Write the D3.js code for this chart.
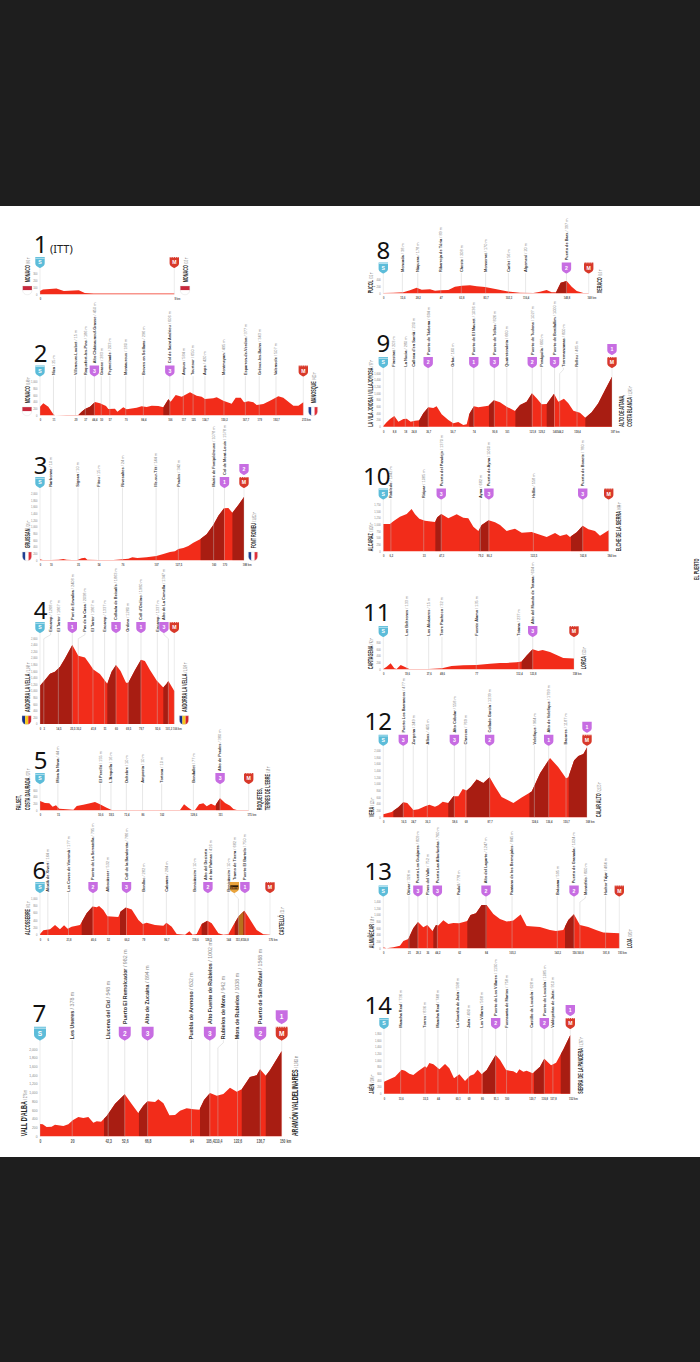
<!DOCTYPE html>
<html>
<head>
<meta charset="utf-8">
<title>Stage profiles</title>
<script src="https://cdn.jsdelivr.net/npm/d3@7"></script>
<style>
  body { margin: 0; background: #fff; }
  svg { display: block; }
  .axis text { font-family: "Liberation Sans", sans-serif; }
</style>
</head>
<body>
<svg id="chart" width="700" height="1362"></svg>
<script>
// km along the stage, metres of altitude, climbs as [from, to] km
// waypoints: [km, name, altitude, climb category, km where the label sits if moved]
const s1Km = [0, 0.2, 1.1, 1.6, 2.6, 3, 3.6, 9];
const s1Elev = [50, 70, 85, 50, 60, 20, 10, 10];
const s1Climbs = [];
const s1Points = [];

const s2Km = [0, 2.7, 6.8, 10.9, 12.2, 21.8, 31.3, 34, 36.7, 40.8, 44.9, 49, 53.9, 55.8, 61.2, 63.2, 68, 70.8, 78.9, 83, 87.1, 91.2, 96.6, 100.7, 104.8, 106.7, 110.8, 115.7, 122.5, 127.9, 132, 134.7, 141.5, 144.3, 149.7, 156.5, 159.8, 163.9, 166.6, 170.1, 174.2, 176.9, 182.4, 187.8, 194.6, 198.7, 206.9, 211, 215];
const s2Elev = [260, 360, 260, 30, 0, 10, 10, 110, 190, 260, 400, 360, 280, 190, 200, 110, 240, 180, 230, 270, 250, 290, 280, 240, 480, 410, 610, 560, 690, 590, 560, 490, 510, 540, 440, 350, 530, 530, 390, 420, 390, 310, 340, 440, 570, 530, 290, 290, 390];
const s2Climbs = [[31.3, 44.4], [100.7, 106]];
const s2Points = [
  [11, 'Niza', '25 m'], [29, 'Villeneuve-Loubet', '15 m'], [37, 'Roquefort-les-Pins', '186 m'],
  [44.4, 'Alto Châteauneuf-Grasse', '450 m', 3], [50, 'Grasse', '283 m'], [57, 'Peymeinade', '203 m'],
  [70, 'Montauroux', '180 m'], [84.4, 'Broves en Seillans', '296 m'], [106, 'Col de Saint Andrieu', '606 m', 3],
  [117, 'Ampus', '584 m'], [125, 'Tourtour', '650 m'], [134.7, 'Aups', '420 m'], [150.2, 'Montmeyan', '495 m'],
  [167.7, 'Esparron-de-Verdon', '377 m'], [179, 'Gréoux-les-Bains', '343 m'], [192.7, 'Valensole', '507 m']
];

const s3Km = [0, 2.5, 10.1, 16.9, 21.5, 24.6, 29.2, 34.4, 38.4, 41.5, 43.6, 54.1, 67.6, 75.9, 81.4, 85.1, 89.7, 98.3, 107.2, 113.7, 119.8, 124.4, 127.5, 132.1, 136.7, 141.3, 147.5, 153.6, 159.7, 164.4, 169.6, 173.6, 177.3, 182.8, 188];
const s3Elev = [30, 10, 10, 20, 40, 20, 10, 10, 60, 80, 20, 10, 10, 30, 50, 90, 70, 90, 130, 190, 250, 270, 340, 370, 430, 530, 630, 780, 1060, 1340, 1560, 1570, 1430, 1660, 1900];
const s3Climbs = [[148, 169.6], [177.3, 188]];
const s3Points = [
  [10, 'Narbonne', '10 m'], [35, 'Sigean', '10 m'], [54, 'Fitou', '15 m'], [76, 'Rivesaltes', '24 m'],
  [107, 'Ille-sur-Têt', '144 m'], [127.5, 'Prades', '342 m'], [160, 'Mairie de Fontpédrouse', '1078 m'],
  [170, 'Col de Mont-Louis', '1578 m', 1]
];

const s4Km = [0, 3.9, 7.9, 11.8, 15.8, 19.7, 25.5, 30.2, 35.5, 38.9, 42.1, 47.3, 53.1, 56.5, 60, 63.6, 67.9, 69.7, 75, 79.7, 82.8, 86.8, 92.1, 97.3, 99.9, 101.3, 106];
const s4Elev = [1160, 1333, 1525, 1586, 1737, 1990, 2394, 2070, 2020, 1838, 1656, 1515, 1222, 1586, 1788, 1606, 1252, 1252, 1636, 1949, 1909, 1636, 1323, 1111, 1222, 1303, 1000];
const s4Climbs = [[0, 25.5], [53.1, 60], [69.7, 79.7], [97.3, 101.3]];
const s4Points = [
  [3, 'Encamp', '1268 m', null, 8.4], [14.5, 'El Tarter', '1867 m'], [25.5, 'Port de Envalira', '2408 m', 1],
  [30.2, 'Pas de la Casa', '2098 m', null, 35.5], [41.8, 'El Tarter', '1867 m'], [51, 'Encamp', '1337 m'],
  [60, 'Collada de Beixalís', '1863 m', 1], [69.5, 'Ordino', '1280 m'], [79.7, "Coll d'Ordino", '1980 m', 1],
  [92.6, 'Encamp', '1337 m'], [101.3, 'Alto de La Comella', '1347 m', 3, 97.8]
];

const s5Km = [0, 2.2, 4.2, 7.8, 10.6, 13.4, 16.2, 22.4, 28, 30.8, 36.3, 41.9, 46.1, 50.3, 55.9, 60.1, 78.3, 117.4, 120.8, 124.4, 127.2, 130, 133.4, 137, 139.8, 143.4, 146.8, 151, 155.2, 159.4, 162.2, 165, 175];
const s5Elev = [280, 250, 220, 210, 110, 150, 50, 30, 20, 130, 170, 210, 250, 180, 80, 10, 10, 10, 180, 80, 10, 10, 180, 210, 120, 200, 140, 360, 220, 140, 40, 10, 10];
const s5Climbs = [[147.6, 151]];
const s5Points = [
  [15, 'Móra la Nova', '44 m'], [50.6, 'El Perelló', '155 m'], [59.5, "L'Ampolla", '16 m'], [72.4, 'Deltebre', '10 m'],
  [86, 'Amposta', '10 m'], [102, 'Tortosa', '10 m'], [128.6, 'Benifallet', '77 m'], [151, 'Alto de Prades', '380 m', 3]
];

const s6Km = [0, 2.6, 7.7, 11.5, 15.3, 18.4, 21.2, 24.2, 30.6, 35.7, 40.3, 43.4, 45.2, 48.5, 51.5, 59.9, 61.7, 65.8, 70.2, 75.3, 78.6, 81.6, 88, 94.4, 96.7, 100.8, 104.6, 111, 114.3, 116.8, 119.9, 123.7, 128.1, 131.4, 136.5, 140.3, 144.1, 148, 151.8, 156.4, 159.4, 165.8, 170.9, 176];
const s6Elev = [27, 127, 155, 273, 155, 264, 173, 228, 273, 592, 774, 755, 792, 683, 510, 491, 637, 746, 692, 410, 300, 337, 273, 255, 337, 228, 27, 9, 100, 9, 27, 300, 391, 319, 46, 9, 18, 273, 500, 664, 500, 137, 18, 9];
const s6Climbs = [[31.9, 40.3], [61.2, 65.8], [123.7, 128.1], [149, 156.4]];
const s6Gravel = [[152, 155.6]];
const s6Points = [
  [6, 'Alcalà de Xivert', '164 m'], [21.8, 'Les Coves de Vinromà', '177 m'], [40.6, 'Puerto de La Serratella', '795 m', 2],
  [52, 'Albocàsser', '532 m'], [66.2, 'Coll de la Bandereta', '786 m', 3], [79, 'Benlloc', '282 m'],
  [96.7, 'Cabanes', '284 m'], [118.6, 'Benicàssim', '10 m'], [128.5, 'Alto del Desierto\nde las Palmas', '416 m', 2],
  [144, 'Benicàssim', '10 m'], [151.8, 'Tramo de Tierra', '682 m', 'G', 148.7], [156.8, 'Puerto El Bartolo', '750 m', 1]
];

const s7Km = [0, 1.7, 4.1, 7.2, 9.3, 14.5, 17.6, 20.3, 23.8, 26.9, 30, 33.1, 35.2, 37.9, 41.4, 46.6, 52.6, 56.9, 61, 64.1, 66.8, 71.4, 73.4, 76.6, 80.3, 83.8, 86.9, 91, 95.2, 98.9, 101.8, 105.5, 109.7, 113.8, 117.9, 122.1, 125.2, 130.3, 134.5, 136.6, 140.1, 142.8, 150];
const s7Elev = [282, 275, 214, 221, 267, 237, 275, 366, 443, 420, 443, 313, 343, 336, 465, 748, 961, 740, 534, 702, 801, 786, 847, 755, 481, 488, 588, 641, 618, 610, 832, 992, 931, 969, 1114, 1022, 1076, 1358, 1396, 1534, 1389, 1518, 1953];
const s7Climbs = [[39.7, 52.6], [61.4, 66.8], [99.3, 105.1], [125.2, 136.8], [140.1, 150]];
const s7Points = [
  [20, 'Les Useres', '378 m'], [42.3, 'Llucena del Cid', '548 m'], [52.6, 'Puerto El Remolcador', '982 m', 2],
  [66.8, 'Alto de Zucaina', '894 m', 3], [94, 'Puebla de Arenoso', '632 m'], [105.4, 'Alto Fuente de Rubielos', '1002 m', 3],
  [110.4, 'Rubielos de Mora', '942 m', null, 113.8], [122.6, 'Mora de Rubielos', '1038 m'], [136.7, 'Puerto de San Rafael', '1568 m', 2]
];

const s8Km = [0, 8.2, 16.4, 21.8, 27.3, 31.4, 38.2, 42.3, 46.6, 53.2, 58.6, 64.1, 70.9, 76.4, 83.2, 92.7, 100.9, 111.8, 122.7, 128.2, 133.6, 137.7, 141.3, 145.1, 150, 154.1, 158.2, 163.6, 168];
const s8Elev = [10, 20, 30, 90, 170, 110, 120, 80, 90, 100, 200, 230, 240, 210, 190, 120, 60, 20, 10, 50, 100, 30, 30, 320, 370, 200, 70, 10, 10];
const s8Climbs = [[141.3, 150]];
const s8Points = [
  [15.6, 'Moncada', '38 m'], [28.2, 'Náquera', '178 m'], [47, 'Ribarroja de Túria', '89 m'], [63.8, 'Cheste', '208 m'],
  [83.7, 'Monserrat', '170 m'], [102.3, 'Carlet', '56 m'], [116.4, 'Algemesí', '20 m'], [149.8, 'Puerto de Barx', '397 m', 2]
];

const s9Km = [0, 2.7, 5.5, 9, 12.3, 16.4, 19.1, 22.4, 25.9, 29.4, 32.7, 36.8, 40.9, 43.6, 47.7, 53.2, 57.2, 61.3, 65.4, 68.2, 70.3, 74.1, 77.7, 85.9, 90.5, 95.4, 100.9, 107.7, 111.8, 117.2, 121.6, 125.4, 129.5, 133.6, 139.6, 143.1, 147.7, 151.3, 155.4, 160.8, 165.2, 170.4, 175.8, 181.3, 187];
const s9Elev = [20, 130, 230, 320, 150, 230, 240, 150, 180, 190, 400, 580, 560, 610, 370, 200, 100, 140, 50, 70, 380, 610, 580, 630, 790, 730, 600, 470, 650, 750, 1000, 850, 670, 680, 990, 750, 840, 700, 480, 420, 270, 430, 700, 1100, 1500];
const s9Climbs = [[29.2, 36.8], [70.3, 74.1], [86.4, 90.8], [108, 121.6], [133.6, 139.6], [165.2, 187]];
const s9Points = [
  [8.8, 'Finestrat', '203 m'], [18, 'La Nucia', '280 m'], [24.8, "Callosa d'en Sarrià", '230 m'],
  [36.7, 'Puerto de Tárbena', '694 m', 2], [56.7, 'Orba', '160 m'], [74, 'Puerto de El Mauret', '1036 m', 1],
  [90.8, 'Puerto de Tollos', '826 m', 3], [101, 'Quatretondeta', '660 m'], [121.8, 'Puerto de Tudons', '1027 m', 2],
  [129.2, 'Penàguila', '660 m'], [140, 'Puerto de Benifallim', '1000 m', 3],
  [144.2, 'Torremanzanas', '800 m', null, 147.2], [158.4, 'Relleu', '465 m']
];

const s10Km = [0, 5.4, 8.2, 13.6, 19.1, 23.1, 25.9, 29.4, 34, 42.2, 44.1, 47.4, 53.1, 59.9, 65.3, 69.4, 73.5, 77.6, 80.3, 86, 91.2, 95.3, 100.7, 107.5, 113, 121.1, 133.4, 140.2, 144.3, 149.7, 152.4, 157.9, 162.8, 167.4, 172.8, 176.9, 184];
const s10Elev = [1025, 1025, 1125, 1300, 1400, 1588, 1388, 1225, 1150, 1100, 1275, 1400, 1238, 1388, 1263, 1238, 925, 763, 988, 1163, 1088, 988, 763, 850, 700, 725, 538, 688, 575, 638, 538, 713, 963, 825, 763, 588, 788];
const s10Climbs = [[42.5, 47.4], [78.4, 86], [153.2, 162.8]];
const s10Points = [
  [6.2, 'Robledo', '1042 m'], [33, 'Riópar', '1085 m'], [47.3, 'Puerto del Pandejo', '1370 m', 3],
  [79.2, 'Ayna', '682 m'], [86.2, 'Puerto de Ayna', '1060 m', 3], [122.5, 'Hellín', '558 m'],
  [162.8, 'Puerto de Bonete', '780 m', 3]
];

const s11Km = [0, 2.8, 6.1, 9.1, 11, 14.4, 18, 21.5, 37.6, 48.6, 56.6, 66.3, 77.1, 88.4, 96.7, 102.2, 110.5, 114.6, 118.8, 123.7, 128.4, 132, 138.1, 143.6, 149.1, 158];
const s11Elev = [10, 80, 180, 30, 10, 130, 70, 10, 10, 30, 100, 120, 130, 170, 190, 190, 210, 230, 410, 600, 550, 580, 520, 430, 340, 320];
const s11Climbs = [[114.6, 123.7]];
const s11Points = [
  [19.6, 'Los Beltrones', '133 m'], [37.6, 'Los Alcázares', '15 m'], [48.6, 'Torre Pacheco', '32 m'],
  [77, 'Fuente Álamo', '135 m'], [112.4, 'Totana', '237 m'], [123.8, 'Alto del Mundo de Totana', '604 m', 3]
];

const s12Km = [0, 6.9, 12.4, 16.5, 19.8, 24.8, 28.9, 34.4, 38, 42.6, 45.4, 49, 53.6, 57.8, 61.9, 65.5, 68.8, 72.1, 77, 82.5, 87.7, 92.1, 97.6, 107.3, 114.1, 122.4, 129.3, 137.5, 144.4, 150.7, 152.6, 157.3, 160.9, 165, 168];
const s12Elev = [90, 160, 300, 450, 430, 220, 240, 330, 380, 320, 360, 470, 430, 630, 630, 850, 800, 910, 1130, 1030, 1200, 920, 610, 430, 590, 770, 1320, 1780, 1500, 1170, 1200, 1700, 1840, 1900, 2090];
const s12Climbs = [[8.3, 16.5], [53.6, 58.6], [68.8, 87.7], [120.5, 136.4], [152.9, 168]];
const s12Points = [
  [16.5, 'Puerto Los Barrancos', '477 m', 3], [24.7, 'Zurgena', '249 m'], [36.3, 'Albox', '405 m'],
  [58.6, 'Alto Cóbdar', '558 m', 3], [68, 'Chercos', '769 m'], [87.7, 'Collado García', '1239 m', 2],
  [124.6, 'Velefique', '964 m'], [136.4, 'Alto de Velefique', '1799 m', 1], [150.7, 'Bacares', '1187 m']
];

const s13Km = [0, 2.7, 8.2, 13.6, 16.4, 20.4, 24.5, 28.4, 32.7, 36, 40.3, 43.1, 45, 49.1, 53.2, 57.2, 61.9, 68.7, 71.4, 75.8, 80.4, 84.5, 90, 95.4, 100.9, 106.3, 112.3, 117.2, 128.1, 136.3, 141.2, 147.2, 151.3, 155.9, 160.8, 167.6, 174.5, 179.9, 193];
const s13Elev = [30, 0, 30, 80, 220, 280, 600, 790, 630, 700, 520, 700, 680, 840, 730, 760, 750, 820, 1000, 1050, 1300, 1300, 1030, 880, 800, 830, 1010, 670, 640, 550, 520, 550, 850, 1020, 700, 640, 540, 470, 450];
const s13Climbs = [[20.4, 28.4], [40.9, 44.2], [68.7, 84.5], [148.6, 156]];
const s13Points = [
  [21, 'Otívar', '326 m'], [28.3, 'Puerto Los Guájares', '809 m', 3], [36, 'Pinos del Valle', '752 m'],
  [44.2, 'Puerto Las Albuñuelas', '760 m', 3], [62, 'Padul', '778 m'], [84, 'Alto del Lagarto', '1247 m', 2],
  [105.3, 'Pantano de los Bermejales', '845 m'], [142.3, 'Brácana', '595 m'], [156, 'Puerto de Granada', '1024 m', 2],
  [160.8, 'Montefrío', '800 m', null, 165.2], [181.8, 'Huétor Tájar', '484 m']
];

const s14Km = [0, 4.9, 9, 14.4, 17.1, 20.7, 23.9, 28, 33.5, 34.8, 37, 40.3, 45.2, 49.8, 53.3, 57.1, 61.5, 66.1, 70.2, 73.4, 76.4, 79.7, 83.8, 91.1, 94.7, 99.6, 105.5, 108.3, 110.4, 113.7, 116.4, 121.3, 127.3, 130.8, 136.3, 140.4, 146.4, 152];
const s14Elev = [360, 440, 510, 720, 690, 600, 560, 680, 820, 780, 920, 880, 730, 890, 760, 460, 580, 380, 540, 580, 720, 580, 710, 1160, 1010, 710, 670, 610, 730, 660, 690, 610, 810, 1050, 850, 930, 1330, 1760];
const s14Climbs = [[80.5, 91.1], [122.4, 130.8], [144.2, 152]];
const s14Points = [
  [13.6, 'Mancha Real', '736 m'], [33.5, 'Torres', '836 m'], [44, 'Mancha Real', '748 m'], [60.1, 'La Guardia de Jaén', '598 m'],
  [69, 'Jaén', '490 m'], [80, 'Los Villares', '568 m'], [91.1, 'Puerto de Los Villares', '1190 m', 2],
  [100, 'Fuensanta de Martos', '758 m'], [120.7, 'Castillo de Locubín', '628 m'], [130.8, 'Puerto de Locubín', '1085 m', 2],
  [137.8, 'Valdepeñas de Jaén', '910 m']
];

const stageKm = [s1Km, s2Km, s3Km, s4Km, s5Km, s6Km, s7Km, s8Km, s9Km, s10Km, s11Km, s12Km, s13Km, s14Km];
const stageElev = [s1Elev, s2Elev, s3Elev, s4Elev, s5Elev, s6Elev, s7Elev, s8Elev, s9Elev, s10Elev, s11Elev, s12Elev, s13Elev, s14Elev];
const stageClimbs = [s1Climbs, s2Climbs, s3Climbs, s4Climbs, s5Climbs, s6Climbs, s7Climbs, s8Climbs, s9Climbs, s10Climbs, s11Climbs, s12Climbs, s13Climbs, s14Climbs];
const stagePoints = [s1Points, s2Points, s3Points, s4Points, s5Points, s6Points, s7Points, s8Points, s9Points, s10Points, s11Points, s12Points, s13Points, s14Points];

const startTitles = [[['MONACO'], '60 m'], [['MONACO'], '148 m'], [['GRUISSAN'], '20 m'], [['ANDORRA LA VELLA'], '1,148 m'], [['FALSET,', 'COSTA DAURADA'], '370 m'], [['ALCOSSEBRE'], '61 m'], [["VALL D'ALBA"], '276 m'], [['PUÇOL'], '33 m'], [['LA VILA JOIOSA / VILLAJOYOSA'], '97 m'], [['ALCARAZ'], '1026 m'], [['CARTAGENA'], '42 m'], [['VERA'], '123 m'], [['ALMUÑÉCAR'], '18 m'], [['JAÉN'], '380 m']];
const finishTitles = [[['MONACO'], '35 m'], [['MANOSQUE'], '423 m'], [['FONT ROMEU'], '1,822 m'], [['ANDORRA LA VELLA'], '1,024 m'], [['ROQUETES,', "TERRES DE L'EBRE"], '18 m'], [['CASTELLÓ'], '21 m'], [['ARAMÓN VALDELINARES'], '1,963 m'], [['XERACO'], '10 m'], [['ALTO DE AITANA,', 'COSTA BLANCA'], '1,545 m'], [['ELCHE DE LA SIERRA'], '644 m'], [['LORCA'], '333 m'], [['CALAR ALTO'], '2,155 m'], [['LOJA'], '383 m'], [['SIERRA DE LA PANDERA'], '1,797 m']];
const finishCats = [null, null, 2, null, null, null, 1, null, 1, null, null, 1, null, 1];
const startFlags = ['mc', 'mc', 'fr', 'ad'];
const finishFlags = ['mc', 'fr', 'fr', 'ad'];

// where each panel goes on the sheet
const panels = [
  {x0: 40, x1: 174.3, base: 294.3, top: 274, max: 300, step: 100, badge: 262.3, lx: 27.3, rx: 185, nx: 40.7, ny: 244.3},
  {x0: 40, x1: 303.3, base: 415.3, top: 382, max: 1000, step: 200, badge: 370.7, lx: 27, rx: 313, nx: 40.7, ny: 353.3},
  {x0: 40, x1: 244, base: 560.3, top: 493.7, max: 2000, step: 200, badge: 482.3, lx: 27, rx: 253, nx: 40.7, ny: 465},
  {x0: 40, x1: 174.3, base: 724, top: 638.3, max: 2600, step: 200, badge: 627.3, lx: 26.7, rx: 184, nx: 40.7, ny: 610},
  {x0: 40, x1: 248.7, base: 810.3, top: 790.3, max: 600, step: 200, badge: 778.3, lx: 26.7, rx: 267, nx: 40.7, ny: 760},
  {x0: 40, x1: 270, base: 935, top: 898.3, max: 1000, step: 200, badge: 887.3, lx: 26.7, rx: 280.7, nx: 39.3, ny: 870},
  {x0: 40, x1: 281.7, base: 1136.3, top: 1049, max: 2000, step: 200, badge: 1033.3, lx: 24, rx: 295, nx: 39.3, ny: 1013, k: 1.27},
  {x0: 383.3, x1: 588.7, base: 293.3, top: 280, max: 400, step: 200, badge: 267.7, lx: 370, rx: 599.3, nx: 383.3, ny: 250},
  {x0: 383.3, x1: 612, base: 426.7, top: 373.3, max: 1600, step: 200, badge: 362.3, lx: 370, rx: 629.3, nx: 383.3, ny: 343},
  {x0: 383.3, x1: 608.7, base: 551.3, top: 504.7, max: 1750, step: 250, badge: 493.7, lx: 370, rx: 618.3, nx: 376.7, ny: 476.7},
  {x0: 383.3, x1: 574, base: 669.3, top: 642.6, max: 800, step: 200, badge: 631.3, lx: 370, rx: 583.3, nx: 376.7, ny: 612.7},
  {x0: 383.3, x1: 587, base: 817.3, top: 750.6, max: 2000, step: 200, badge: 740, lx: 370.7, rx: 597.7, nx: 378.3, ny: 721.7},
  {x0: 383.3, x1: 619.3, base: 948.3, top: 901.6, max: 1400, step: 200, badge: 890.7, lx: 370.7, rx: 629.3, nx: 378.3, ny: 871.7},
  {x0: 384, x1: 570.3, base: 1093.7, top: 1033.7, max: 1800, step: 200, badge: 1023.3, lx: 370.7, rx: 580, nx: 378.3, ny: 1005}
];

const RED = '#f22c1a', DARK = '#a81d12', GRAVEL = '#b9701c';
const SKY = '#5cbcd9', LILAC = '#c76de2', FINISH = '#d8392a';
const SANS = '"Liberation Sans", sans-serif';
const shield = 'M-4.7,-5.2 L4.7,-5.2 L4.7,1 C4.7,3.6 2,4.8 0,5.8 C-2,4.8 -4.7,3.6 -4.7,1 Z';

let svg = d3.select('#chart');

// black bands above and below the sheet
svg.append('rect').attr('width', 700).attr('height', 206).attr('fill', '#1e1e1e');
svg.append('rect').attr('y', 1157).attr('width', 700).attr('height', 205).attr('fill', '#1e1e1e');

let commaKm = (v) => String(v).replace('.', ',');

let drawBadge = function (g, x, y, kind, k) {
  let b = g.append('g').attr('transform', 'translate(' + x + ',' + y + ') scale(' + k + ')');
  let fill = kind === 'S' ? SKY : kind === 'M' ? FINISH : kind === 'G' ? '#e9a33c' : LILAC;
  b.append('path').attr('d', shield).attr('fill', fill);
  if (kind === 'S') {
    b.append('rect').attr('x', -4.7).attr('y', -4.4).attr('width', 9.4).attr('height', 0.7).attr('fill', '#d5f0f8');
  }
  if (kind === 'M') {
    b.append('line').attr('x1', -4.7).attr('x2', 4.7).attr('y1', -4.9).attr('y2', -4.9)
      .attr('stroke', '#fff').attr('stroke-width', 0.8).attr('stroke-dasharray', '0.9 0.9');
  }
  if (kind === 'G') {
    b.append('rect').attr('x', -4).attr('y', -2).attr('width', 8).attr('height', 4).attr('fill', '#2a1a08');
  }
  b.append('text').attr('text-anchor', 'middle').attr('y', 2)
    .attr('font-family', SANS).attr('font-weight', 700)
    .attr('font-size', kind === 'G' ? 3 : 5.2).attr('fill', kind === 'G' ? '#e9a33c' : '#fff')
    .text(kind === 'G' ? 'tierra' : kind);
};

let drawFlag = function (g, x, y, code, id) {
  let colors = {mc: ['#c8283c', '#fff'], fr: ['#1f3f94', '#fff', '#e0303a'], ad: ['#14308c', '#f6c81e', '#d3202c']}[code];
  let clip = svg.append('clipPath').attr('id', id);
  clip.append('path').attr('d', 'M-4.7,-4.2 H4.7 V0 A4.7,4.5 0 0 1 -4.7,0 Z')
    .attr('transform', 'translate(' + x + ',' + y + ')');
  let f = g.append('g').attr('clip-path', 'url(#' + id + ')');
  if (code === 'mc') {
    f.append('rect').attr('x', x - 5).attr('y', y - 5).attr('width', 10).attr('height', 5).attr('fill', colors[0]);
    f.append('rect').attr('x', x - 5).attr('y', y).attr('width', 10).attr('height', 5).attr('fill', colors[1]);
  } else {
    colors.forEach((c, i) => {
      f.append('rect').attr('x', x - 4.7 + i * 3.14).attr('y', y - 5).attr('width', 3.14).attr('height', 10).attr('fill', c);
    });
  }
  g.append('path').attr('d', 'M-4.7,-4.2 H4.7 V0 A4.7,4.5 0 0 1 -4.7,0 Z')
    .attr('transform', 'translate(' + x + ',' + y + ')')
    .attr('fill', 'none').attr('stroke', '#ccc').attr('stroke-width', 0.3);
};

let drawTitle = function (g, x, bottom, lines, alt, size, squeeze) {
  lines.forEach((line, i) => {
    let lineX = x - (lines.length - 1 - i) * 8.3;
    let t = g.append('text')
      .attr('transform', 'translate(' + lineX + ',' + bottom + ') rotate(-90) scale(' + squeeze + ',1)')
      .attr('dy', '0.36em')
      .attr('font-family', SANS).attr('font-weight', 700).attr('font-size', size).attr('fill', '#2b2b2b')
      .text(line);
    if (i === lines.length - 1) {
      t.append('tspan').attr('font-weight', 400).attr('font-size', 5.2).attr('fill', '#777').attr('dx', 1).text(' / ' + alt);
    }
  });
};

let drawStage = function (p, i) {
  let km = stageKm[i], elev = stageElev[i], points = stagePoints[i];
  let k = p.k || 1;
  let big = k > 1;
  let lastKm = km[km.length - 1];
  let fontSize = big ? 5.3 : 3.9;
  let low = p.badge + 5.4 * k, high = p.badge - 7.4 * k;

  let x = d3.scaleLinear().domain([0, lastKm]).range([p.x0, p.x1]);
  let y = d3.scaleLinear().domain([0, p.max]).range([p.base, p.top]);
  let g = svg.append('g').attr('class', 'stage');

  let area = d3.area()
    .x((d, j) => x(km[j]))
    .y0(p.base)
    .y1((d) => y(d));

  g.append('path').datum(elev).attr('d', area).attr('fill', RED);

  // darker bands on the climbs, orange for the gravel sector of stage 6
  let paintBands = function (bands, color, id) {
    if (!bands.length) return;
    let clip = svg.append('clipPath').attr('id', id);
    bands.forEach((b) => {
      clip.append('rect').attr('x', x(b[0])).attr('y', p.top - 10)
        .attr('width', x(b[1]) - x(b[0])).attr('height', p.base - p.top + 10);
    });
    g.append('path').datum(elev).attr('d', area).attr('fill', color).attr('clip-path', 'url(#' + id + ')');
  };
  paintBands(stageClimbs[i], DARK, 'climb' + i);
  if (i === 5) paintBands(s6Gravel, GRAVEL, 'gravel' + i);

  // vertical guides for start and finish
  [0, lastKm].forEach((v) => {
    g.append('line').attr('x1', x(v)).attr('x2', x(v)).attr('y1', p.badge).attr('y2', p.base)
      .attr('stroke', '#c8c8c8').attr('stroke-width', 0.5).attr('stroke-opacity', 0.7);
  });

  points.forEach((pt) => {
    let px = x(pt[0]);
    let lx = pt[4] !== undefined ? x(pt[4]) : px;
    let hasBadge = pt[3] !== undefined && pt[3] !== null;
    let from = hasBadge ? p.badge : low;
    let moved = lx !== px;
    let kink = low + 6 * k;
    let route = moved ? [[lx, from], [lx, low + 2 * k], [px, kink], [px, p.base]] : [[px, from], [px, p.base]];
    g.append('path').attr('d', d3.line()(route)).attr('fill', 'none')
      .attr('stroke', '#c4c4c4').attr('stroke-width', 0.55).attr('stroke-opacity', 0.75);

    let bottom = hasBadge ? high : low - 1;
    let lines = pt[1].split('\n');
    lines.forEach((line, j) => {
      let t = g.append('text')
        .attr('transform', 'translate(' + (lx - (lines.length - 1) * 2.3 + j * 4.6) + ',' + bottom + ') rotate(-90)')
        .attr('dy', '0.35em')
        .attr('font-family', SANS).attr('font-size', fontSize).attr('font-weight', 700).attr('fill', '#333')
        .text(line);
      if (j === lines.length - 1) {
        t.append('tspan').attr('font-weight', 400).attr('fill', '#8a8a8a').text(' / ' + pt[2]);
      }
    });
    if (hasBadge) drawBadge(g, lx, p.badge, pt[3], k);
  });

  drawBadge(g, x(0), p.badge, 'S', k);
  drawBadge(g, x(lastKm), p.badge, 'M', k);
  if (finishCats[i]) drawBadge(g, x(lastKm), p.badge - 13 * k, finishCats[i], k);

  // axes
  let kmTicks = [0].concat(points.map((d) => d[0]), [lastKm]);
  let xAxis = d3.axisBottom(x).tickValues(kmTicks).tickSize(0).tickPadding(3)
    .tickFormat((d) => d === lastKm ? commaKm(d) + ' km' : commaKm(d));
  let ax = g.append('g').attr('class', 'axis')
    .attr('transform', 'translate(0,' + p.base + ')').call(xAxis);
  ax.select('.domain').remove();
  ax.selectAll('text').attr('font-size', big ? 5.4 : 4.2).attr('font-weight', 700).attr('fill', '#555')
    .attr('transform', 'scale(0.62,1)');
  ax.selectAll('.tick').filter((d) => d === lastKm).select('text').attr('dx', '1em');

  let yAxis = d3.axisLeft(y).tickValues(d3.range(0, p.max + 1, p.step)).tickSize(0).tickPadding(2.5);
  let ay = g.append('g').attr('class', 'axis')
    .attr('transform', 'translate(' + p.x0 + ',0)').call(yAxis);
  ay.select('.domain').remove();
  ay.selectAll('text').attr('font-size', 2.6 * k).attr('fill', '#888');

  // place names at either end, with flags on the first four stages
  let size = big ? 9.6 : 8;
  let squeeze = big ? 0.56 : 0.47;
  let hasFlag = i < 4;
  drawTitle(g, p.lx, hasFlag ? p.base - 12 : p.base, startTitles[i][0], startTitles[i][1], size, squeeze);
  drawTitle(g, p.rx, hasFlag ? p.base - 12 : p.base, finishTitles[i][0], finishTitles[i][1], size, squeeze);
  if (hasFlag) {
    drawFlag(g, p.lx, p.base - 4, startFlags[i], 'flagA' + i);
    drawFlag(g, p.rx, p.base - 4, finishFlags[i], 'flagB' + i);
  }

  g.append('text').attr('x', p.nx).attr('y', p.ny + 8.6).attr('text-anchor', 'middle')
    .attr('font-family', '"Noto Sans", sans-serif').attr('font-size', 24).attr('fill', '#111')
    .text(i + 1);
};

panels.forEach(drawStage);

svg.append('text').attr('x', 50).attr('y', 252.5)
  .attr('font-family', '"Noto Sans", sans-serif').attr('font-size', 11).attr('fill', '#222')
  .text('(ITT)');

// stray title from the neighbouring column, cut at the page edge
svg.append('text').attr('transform', 'translate(696,580) rotate(-90) scale(0.47,1)')
  .attr('dy', '0.36em').attr('font-family', SANS).attr('font-weight', 700).attr('font-size', 8).attr('fill', '#2b2b2b')
  .text('EL PUERTO');
</script>
</body>
</html>
